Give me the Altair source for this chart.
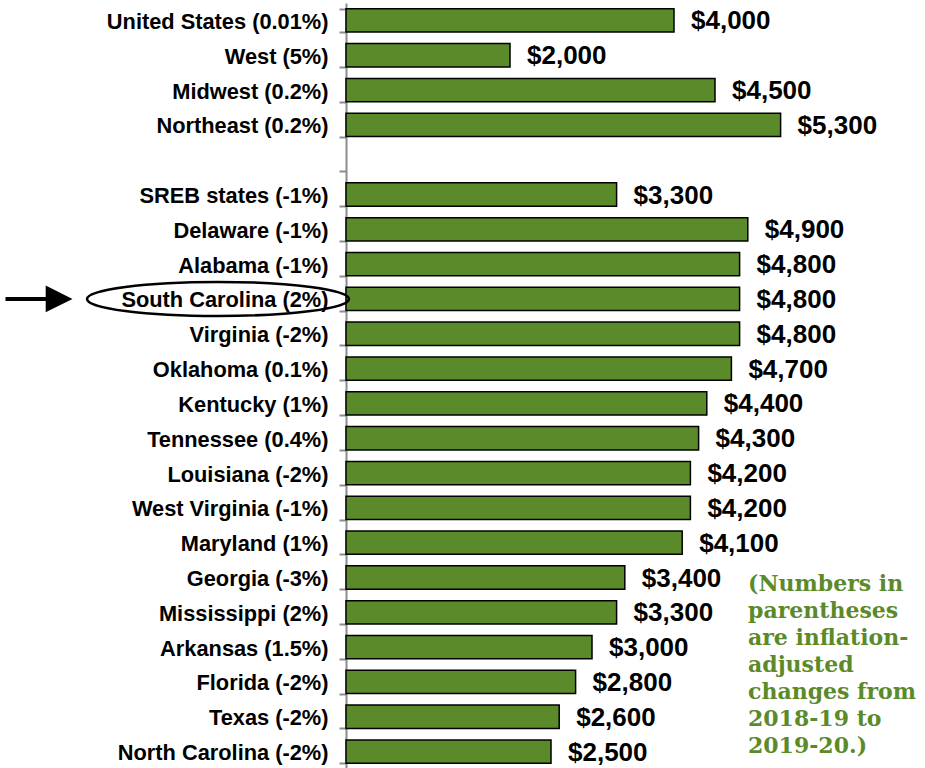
import altair as alt
import pandas as pd

names = ["United States", "West", "Midwest", "Northeast", " ",
         "SREB states", "Delaware", "Alabama", "South Carolina", "Virginia",
         "Oklahoma", "Kentucky", "Tennessee", "Louisiana", "West Virginia",
         "Maryland", "Georgia", "Mississippi", "Arkansas", "Florida", "Texas",
         "North Carolina"]
changes = ["0.01%", "5%", "0.2%", "0.2%", "",
           "-1%", "-1%", "-1%", "2%", "-2%",
           "0.1%", "1%", "0.4%", "-2%", "-1%",
           "1%", "-3%", "2%", "1.5%", "-2%", "-2%",
           "-2%"]
values = [4000, 2000, 4500, 5300, None,
          3300, 4900, 4800, 4800, 4800,
          4700, 4400, 4300, 4200, 4200,
          4100, 3400, 3300, 3000, 2800, 2600,
          2500]
note_lines = ["(Numbers in", "parentheses", "are inflation-", "adjusted",
              "changes from", "2018-19 to", "2019-20.)"]
highlight = "South Carolina"

labels = [f"{n} ({c})" if c else n for n, c in zip(names, changes)]
df = pd.DataFrame({"name": names, "label": labels, "value": values})
df["text"] = df["value"].apply(lambda v: "" if pd.isna(v) else f"${int(v):,}")

GREEN = "#5B8A2B"

y_enc = alt.Y("label:N", sort=labels,
              scale=alt.Scale(domain=labels, paddingInner=0.33, paddingOuter=0.165),
              axis=alt.Axis(title=None, domainColor="#8C8C8C", domainWidth=2,
                            tickColor="#8C8C8C", tickWidth=2, tickSize=7,
                            tickBand="extent", labelFont="Liberation Sans",
                            labelFontSize=21.8, labelFontWeight="bold",
                            labelLimit=400, labelOffset=1,
                            labelColor="black", labelPadding=11, grid=False))
x_enc = alt.X("value:Q", scale=alt.Scale(domain=[0, 7000]), axis=None)

base = alt.Chart(df)
bars = base.transform_filter("isValid(datum.value)").mark_bar(
    fill=GREEN, stroke="black", strokeWidth=1.5
).encode(x=x_enc, y=y_enc)

vals = base.transform_filter("isValid(datum.value)").mark_text(
    align="left", baseline="middle", dx=17, dy=1, font="Liberation Sans",
    fontSize=26, fontWeight="bold", color="black"
).encode(x=x_enc, y=alt.Y("label:N", sort=labels), text="text:N")

hl = base.transform_filter(alt.datum.name == highlight)
ellipse = hl.mark_point(
    shape="M -1 0 A 1 0.13 0 1 1 1 0 A 1 0.13 0 1 1 -1 0 Z",
    size=68644, filled=False, stroke="black", strokeWidth=2.5, opacity=1
).encode(x=alt.value(-128), y=alt.Y("label:N", sort=labels))

arrow = hl.mark_point(
    shape="M -1 -0.06 L 0.2 -0.06 L 0.2 -0.4 L 1 0 L 0.2 0.4 L 0.2 0.06 L -1 0.06 Z",
    size=4489, filled=True, fill="black", strokeWidth=0, opacity=1
).encode(x=alt.value(-307), y=alt.Y("label:N", sort=labels))

note = alt.Chart(pd.DataFrame({"t": [0]})).mark_text(
    text=note_lines, align="left", baseline="alphabetic", lineHeight=27,
    font="DejaVu Serif", fontSize=22, fontWeight="bold", color=GREEN
).encode(x=alt.value(402), y=alt.value(588))

chart = alt.layer(bars, vals, ellipse, arrow, note).properties(
    width=574, height=766, autosize="none",
    padding={"left": 346, "top": 3, "right": 5, "bottom": 0}
).configure_view(stroke=None)

chart.save("out.html", embed_options={"renderer": "svg", "actions": False})
